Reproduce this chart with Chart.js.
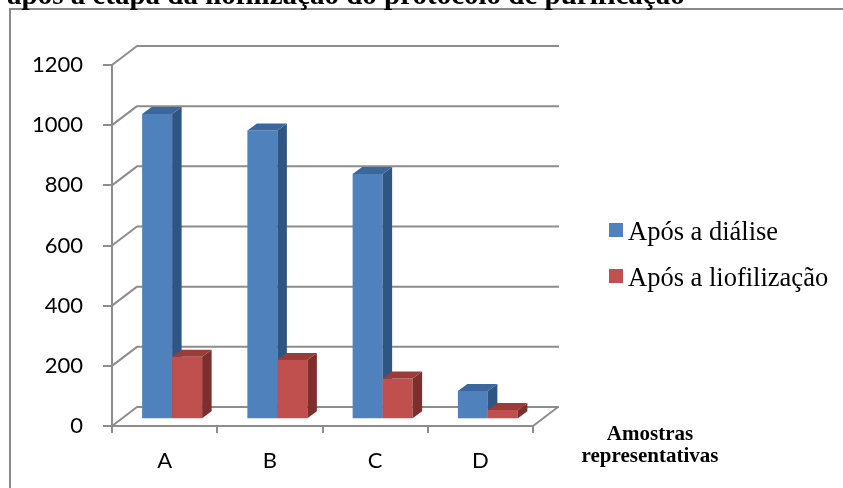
<!DOCTYPE html>
<html>
<head>
<meta charset="utf-8">
<script src="https://cdn.jsdelivr.net/npm/chart.js@4.4.0/dist/chart.umd.min.js"></script>
<style>
  html, body { margin: 0; padding: 0; background: #ffffff; }
  #wrap { width: 843px; height: 488px; position: relative; }
</style>
</head>
<body>
<div id="wrap"><canvas id="c" width="843" height="488"></canvas></div>
<script>
// Data
const categories = ['A', 'B', 'C', 'D'];
const seriesNames = ['Após a diálise', 'Após a liofilização'];
const dialiseValues = [1015, 960, 815, 94];
const liofilizacaoValues = [208, 197, 136, 31];
const yTickValues = [0, 200, 400, 600, 800, 1000, 1200];
const chartTitle = 'após a etapa da liofilização do protocolo de purificação';
const categoryAxisTitle = ['Amostras', 'representativas'];

// Styling
const GRID = '#8d8d8d';
const FRONT = ['#4F81BD', '#C0504D'];
const SIDE = ['#2F5584', '#7E2F2D'];
const TOP = ['#3B679D', '#9C3C39'];
const WALL_DX = 25, WALL_DY = 19;   // depth of the floor / side wall
const ROW_DX = 7.5, ROW_DY = 6.7;   // where the bar row sits in depth
const BAR_DX = 9.5, BAR_DY = 7;     // depth of each bar

const depth3d = {
  id: 'depth3d',
  beforeDatasetsDraw(chart) {
    const { ctx, chartArea: a, scales: { y } } = chart;
    ctx.save();
    ctx.strokeStyle = GRID;
    ctx.lineWidth = 2;
    ctx.lineJoin = 'round';
    ctx.beginPath();
    y.ticks.forEach(t => {
      const py = y.getPixelForValue(t.value);
      ctx.moveTo(a.left, py);
      ctx.lineTo(a.left + WALL_DX, py - WALL_DY);
      ctx.lineTo(a.right + WALL_DX + 1, py - WALL_DY);
    });
    ctx.moveTo(a.right, a.bottom);
    ctx.lineTo(a.right + WALL_DX, a.bottom - WALL_DY);
    ctx.stroke();
    ctx.restore();
  },
  // bars are painted below, category by category, so faces overlap correctly
  beforeDatasetDraw() { return false; },
  afterDatasetsDraw(chart) {
    const ctx = chart.ctx;
    const metas = chart.data.datasets.map((d, i) => chart.getDatasetMeta(i));
    ctx.save();
    ctx.translate(ROW_DX, -ROW_DY);
    categories.forEach((c, i) => {
      metas.forEach((meta, d) => {
        const el = meta.data[i];
        if (!el) return;
        el.draw(ctx);
        const { x, y, base, width } = el.getProps(['x', 'y', 'base', 'width'], true);
        const l = x - width / 2, r = x + width / 2;
        // right side face
        ctx.fillStyle = SIDE[d];
        ctx.beginPath();
        ctx.moveTo(r, y);
        ctx.lineTo(r + BAR_DX, y - BAR_DY);
        ctx.lineTo(r + BAR_DX, base - BAR_DY);
        ctx.lineTo(r, base);
        ctx.closePath();
        ctx.fill();
        // top face
        ctx.fillStyle = TOP[d];
        ctx.beginPath();
        ctx.moveTo(l, y);
        ctx.lineTo(l + BAR_DX, y - BAR_DY);
        ctx.lineTo(r + BAR_DX, y - BAR_DY);
        ctx.lineTo(r, y);
        ctx.closePath();
        ctx.fill();
      });
    });
    ctx.restore();
  },
  afterDraw(chart) {
    const ctx = chart.ctx;
    ctx.save();
    // outer frame
    ctx.strokeStyle = '#8a8a8a';
    ctx.lineWidth = 2;
    ctx.beginPath();
    ctx.moveTo(10, 488);
    ctx.lineTo(10, 9);
    ctx.lineTo(843, 9);
    ctx.stroke();

    // heading
    ctx.fillStyle = '#000000';
    ctx.font = 'bold 29px "Liberation Serif"';
    ctx.textAlign = 'left';
    ctx.textBaseline = 'alphabetic';
    ctx.fillText(chartTitle, 7, 4);

    // category axis title
    ctx.font = 'bold 21px "Liberation Serif"';
    ctx.textAlign = 'center';
    ctx.fillText(categoryAxisTitle[0], 650, 440);
    ctx.fillText(categoryAxisTitle[1], 650, 462);

    // legend
    ctx.font = '26.5px "Liberation Serif"';
    ctx.textAlign = 'left';
    chart.data.datasets.forEach((ds, i) => {
      const top = 223 + i * 46;
      ctx.fillStyle = ds.backgroundColor;
      ctx.fillRect(609, top, 14, 14);
      ctx.fillStyle = '#000000';
      ctx.fillText(ds.label, 628, top + 16.5);
    });
    ctx.restore();
  }
};

Chart.defaults.font.family = 'Lato';
Chart.defaults.color = '#000000';

new Chart(document.getElementById('c'), {
  type: 'bar',
  data: {
    labels: categories,
    datasets: [
      { label: seriesNames[0], data: dialiseValues, backgroundColor: FRONT[0] },
      { label: seriesNames[1], data: liofilizacaoValues, backgroundColor: FRONT[1] }
    ]
  },
  options: {
    responsive: false,
    animation: false,
    devicePixelRatio: 1,
    categoryPercentage: 0.57,
    barPercentage: 1.0,
    layout: { padding: { left: 0, top: 65, right: 310, bottom: 0 } },
    plugins: { legend: { display: false }, title: { display: false }, tooltip: { enabled: false } },
    scales: {
      x: {
        grid: { display: true, drawOnChartArea: false, drawTicks: true, tickLength: 7, offset: true, color: GRID, lineWidth: 2 },
        border: { display: true, color: GRID, width: 2 },
        ticks: { font: { size: 22 }, padding: 15, maxRotation: 0 },
        afterFit(s) { s.height = 62; }
      },
      y: {
        min: 0,
        max: 1200,
        afterBuildTicks(s) { s.ticks = yTickValues.map(v => ({ value: v })); },
        grid: { display: true, drawOnChartArea: false, drawTicks: true, tickLength: 9, color: GRID, lineWidth: 2 },
        border: { display: true, color: GRID, width: 2 },
        ticks: { font: { size: 22 }, padding: 20, callback: v => String(v) },
        afterFit(s) { s.width = 112; }
      }
    }
  },
  plugins: [depth3d]
});
</script>
</body>
</html>
